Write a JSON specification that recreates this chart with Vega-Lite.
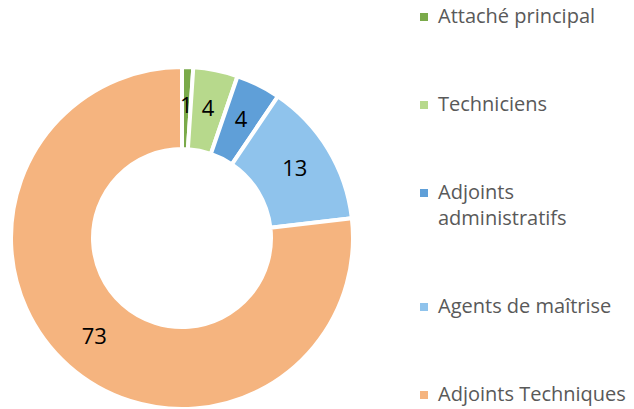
{
  "$schema": "https://vega.github.io/schema/vega-lite/v6.json",
  "width": 364,
  "height": 342,
  "autosize": {"type": "none"},
  "padding": {"left": 0, "top": 67, "right": 270, "bottom": 0},
  "background": "white",
  "view": {"stroke": null},
  "config": {"style": {"guide-label": {"lineHeight": 26}}},
  "data": {
    "values": [
      {"cat": "Attaché principal", "n": 1, "o": 1},
      {"cat": "Techniciens", "n": 4, "o": 2},
      {"cat": "Adjoints administratifs", "n": 4, "o": 3},
      {"cat": "Agents de maîtrise", "n": 13, "o": 4},
      {"cat": "Adjoints Techniques", "n": 73, "o": 5}
    ]
  },
  "encoding": {
    "theta": {"field": "n", "type": "quantitative", "stack": true},
    "order": {"field": "o", "type": "quantitative"},
    "color": {
      "field": "cat",
      "type": "nominal",
      "scale": {
        "domain": ["Attaché principal", "Techniciens", "Adjoints administratifs", "Agents de maîtrise", "Adjoints Techniques"],
        "range": ["#7aaa4a", "#b7d98c", "#5f9fd8", "#8fc3ec", "#f5b47f"]
      },
      "legend": {
        "title": null,
        "orient": "none",
        "legendX": 414,
        "legendY": -60,
        "symbolType": "square",
        "symbolSize": 64,
        "symbolStrokeWidth": 0,
        "labelFont": "Open Sans",
        "labelFontSize": 20,
        "labelColor": "#595959",
        "labelLimit": 300,
        "labelOffset": 4,
        "rowPadding": 68,
        "padding": 0,
        "labelExpr": "datum.label == 'Adjoints administratifs' ? ['Adjoints', 'administratifs'] : datum.label"
      }
    }
  },
  "layer": [
    {"mark": {"type": "arc", "innerRadius": 89, "outerRadius": 171, "stroke": "white", "strokeWidth": 4}},
    {
      "mark": {"type": "text", "radius": 132, "fontSize": 22, "font": "Open Sans"},
      "encoding": {
        "text": {"field": "n", "type": "quantitative"},
        "color": {"value": "black"}
      }
    }
  ]
}
